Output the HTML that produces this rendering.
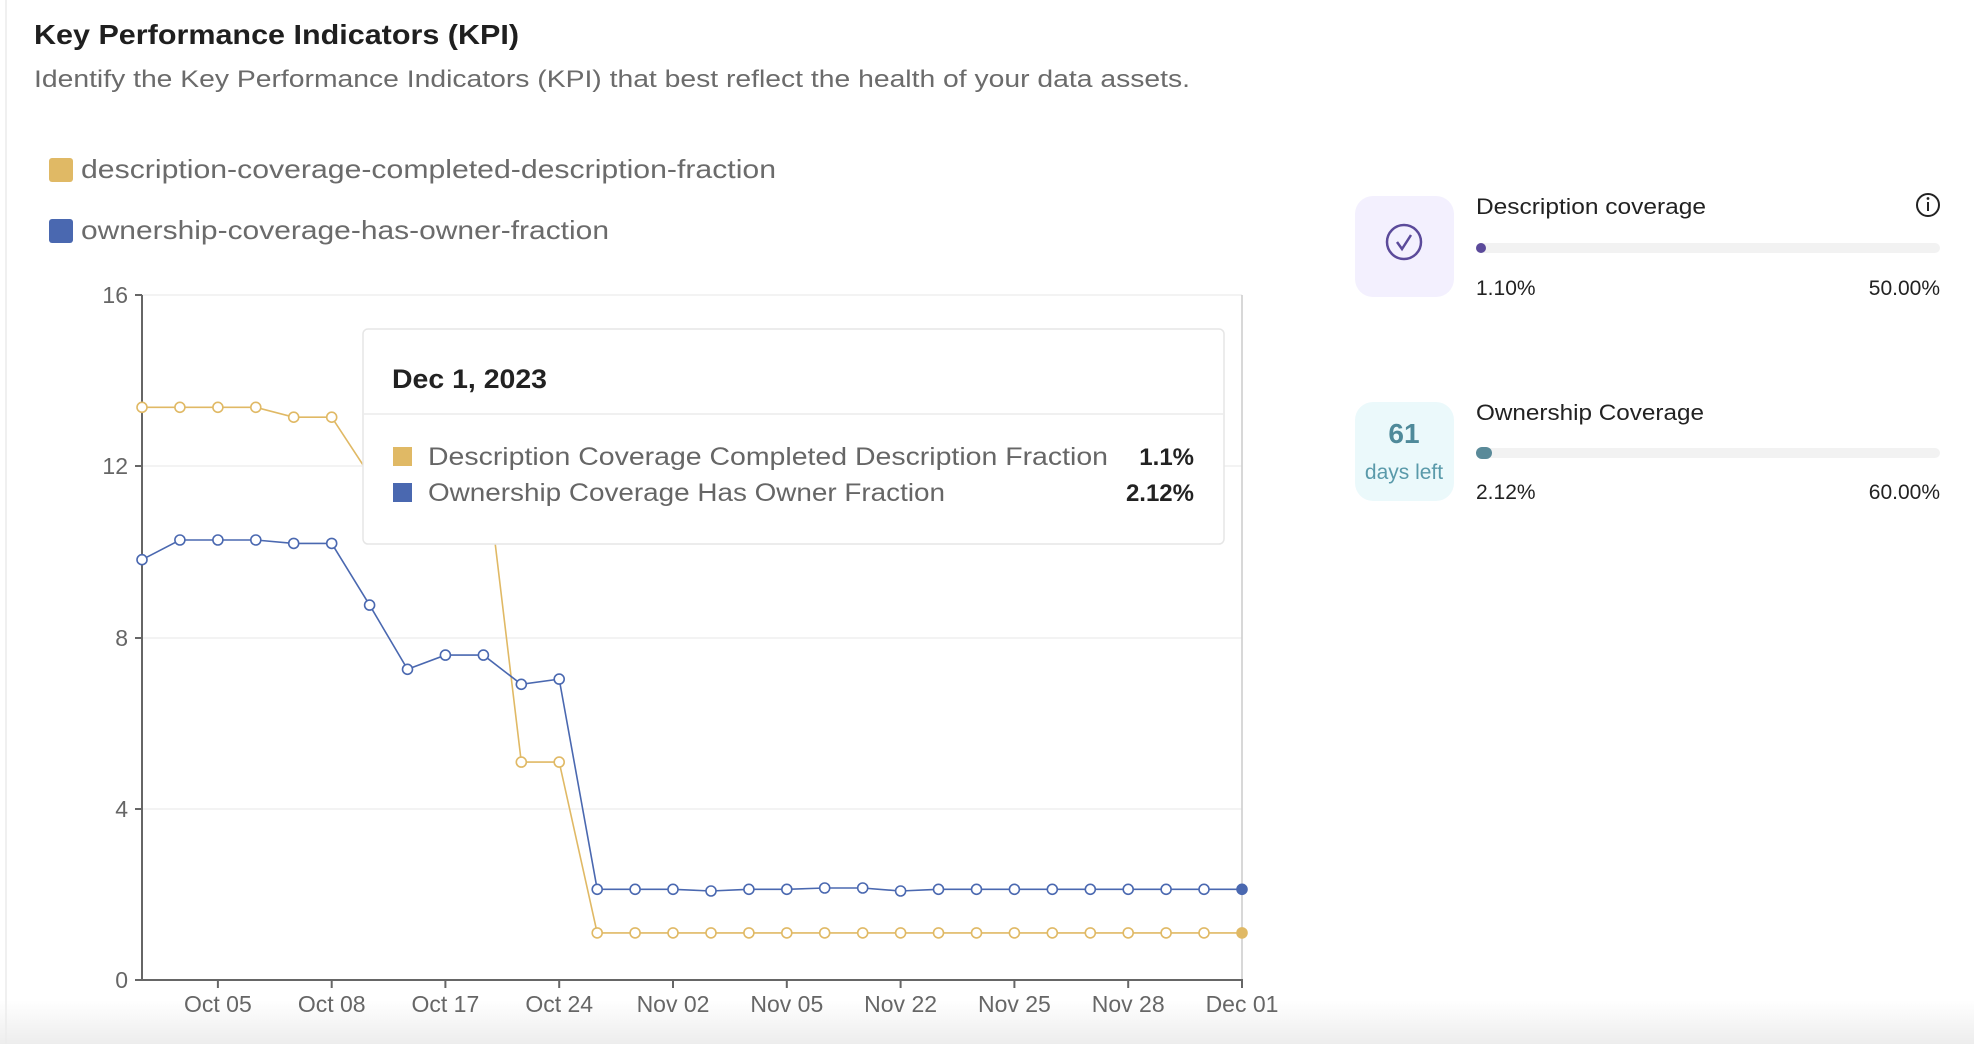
<!DOCTYPE html>
<html><head><meta charset="utf-8"><style>
html,body{margin:0;padding:0;background:#fff;width:1974px;height:1044px;overflow:hidden}
</style></head><body>
<svg width="1974" height="1044" viewBox="0 0 1974 1044" xmlns="http://www.w3.org/2000/svg" font-family="Liberation Sans, sans-serif">
<defs><linearGradient id="bg" x1="0" y1="0" x2="0" y2="1"><stop offset="0" stop-color="#fff"/><stop offset="1" stop-color="#ededed"/></linearGradient></defs>
<rect width="1974" height="1044" fill="#fff"/>
<rect x="0" y="1000" width="1974" height="44" fill="url(#bg)"/>
<line x1="6" y1="0" x2="6" y2="1044" stroke="#ececec" stroke-width="1.5"/>
<text x="34" y="44" font-size="28" font-weight="bold" fill="#1f1f1f" textLength="485" lengthAdjust="spacingAndGlyphs">Key Performance Indicators (KPI)</text>
<text x="34" y="87" font-size="24" fill="#6b6b6b" textLength="1156" lengthAdjust="spacingAndGlyphs">Identify the Key Performance Indicators (KPI) that best reflect the health of your data assets.</text>
<rect x="49" y="158" width="24" height="24" rx="3" fill="#e0b965"/>
<text x="81" y="178" font-size="26" fill="#6b6b6b" textLength="695" lengthAdjust="spacingAndGlyphs">description-coverage-completed-description-fraction</text>
<rect x="49" y="219" width="24" height="24" rx="3" fill="#4a68b0"/>
<text x="81" y="239" font-size="26" fill="#6b6b6b" textLength="528" lengthAdjust="spacingAndGlyphs">ownership-coverage-has-owner-fraction</text>
<g stroke="#efefef" stroke-width="1.5">
<line x1="142" y1="295" x2="1242" y2="295"/><line x1="142" y1="466" x2="1242" y2="466"/><line x1="142" y1="638" x2="1242" y2="638"/><line x1="142" y1="809" x2="1242" y2="809"/></g>
<line x1="1242" y1="295" x2="1242" y2="980" stroke="#ccc" stroke-width="1.5"/>
<g stroke="#666" stroke-width="2"><line x1="142" y1="295" x2="142" y2="981"/><line x1="141" y1="980" x2="1243" y2="980"/>
<line x1="135" y1="295" x2="142" y2="295"/><line x1="135" y1="466" x2="142" y2="466"/><line x1="135" y1="638" x2="142" y2="638"/><line x1="135" y1="809" x2="142" y2="809"/><line x1="135" y1="980" x2="142" y2="980"/>
<line x1="217.9" y1="980" x2="217.9" y2="988"/><line x1="331.7" y1="980" x2="331.7" y2="988"/><line x1="445.4" y1="980" x2="445.4" y2="988"/><line x1="559.2" y1="980" x2="559.2" y2="988"/><line x1="673" y1="980" x2="673" y2="988"/><line x1="786.8" y1="980" x2="786.8" y2="988"/><line x1="900.6" y1="980" x2="900.6" y2="988"/><line x1="1014.4" y1="980" x2="1014.4" y2="988"/><line x1="1128.2" y1="980" x2="1128.2" y2="988"/><line x1="1242" y1="980" x2="1242" y2="988"/></g>
<g font-size="23" fill="#666" text-anchor="end"><text x="128" y="303">16</text><text x="128" y="474">12</text><text x="128" y="646">8</text><text x="128" y="817">4</text><text x="128" y="988">0</text></g>
<g font-size="23" fill="#666" text-anchor="middle"><text x="217.9" y="1012">Oct 05</text><text x="331.7" y="1012">Oct 08</text><text x="445.4" y="1012">Oct 17</text><text x="559.2" y="1012">Oct 24</text><text x="673" y="1012">Nov 02</text><text x="786.8" y="1012">Nov 05</text><text x="900.6" y="1012">Nov 22</text><text x="1014.4" y="1012">Nov 25</text><text x="1128.2" y="1012">Nov 28</text><text x="1242" y="1012">Dec 01</text></g>
<polyline fill="none" stroke="#e0b965" stroke-width="1.6" points="142,407.3 179.9,407.3 217.9,407.3 255.8,407.3 293.7,417.2 331.7,417.2 369.6,475 407.5,457.8 445.4,457.8 483.4,445 521.3,762.1 559.2,762.1 597.2,932.9 635.1,932.9 673,932.9 711,932.9 748.9,932.9 786.8,932.9 824.7,932.9 862.7,932.9 900.6,932.9 938.5,932.9 976.5,932.9 1014.4,932.9 1052.3,932.9 1090.3,932.9 1128.2,932.9 1166.1,932.9 1204,932.9 1242,932.9"/>
<g fill="#fff" stroke="#e0b965" stroke-width="1.6"><circle cx="142" cy="407.3" r="5"/><circle cx="179.9" cy="407.3" r="5"/><circle cx="217.9" cy="407.3" r="5"/><circle cx="255.8" cy="407.3" r="5"/><circle cx="293.7" cy="417.2" r="5"/><circle cx="331.7" cy="417.2" r="5"/><circle cx="521.3" cy="762.1" r="5"/><circle cx="559.2" cy="762.1" r="5"/><circle cx="597.2" cy="932.9" r="5"/><circle cx="635.1" cy="932.9" r="5"/><circle cx="673" cy="932.9" r="5"/><circle cx="711" cy="932.9" r="5"/><circle cx="748.9" cy="932.9" r="5"/><circle cx="786.8" cy="932.9" r="5"/><circle cx="824.7" cy="932.9" r="5"/><circle cx="862.7" cy="932.9" r="5"/><circle cx="900.6" cy="932.9" r="5"/><circle cx="938.5" cy="932.9" r="5"/><circle cx="976.5" cy="932.9" r="5"/><circle cx="1014.4" cy="932.9" r="5"/><circle cx="1052.3" cy="932.9" r="5"/><circle cx="1090.3" cy="932.9" r="5"/><circle cx="1128.2" cy="932.9" r="5"/><circle cx="1166.1" cy="932.9" r="5"/><circle cx="1204" cy="932.9" r="5"/><circle cx="1242" cy="932.9" r="5" fill="#e0b965"/></g>
<polyline fill="none" stroke="#4a68b0" stroke-width="1.6" points="142,559.7 179.9,540 217.9,540 255.8,540 293.7,543.4 331.7,543.4 369.6,605.1 407.5,669.3 445.4,655.1 483.4,655.1 521.3,684.3 559.2,679.1 597.2,889.3 635.1,889.3 673,889.3 711,891 748.9,889.3 786.8,889.3 824.7,888 862.7,888 900.6,891 938.5,889.3 976.5,889.3 1014.4,889.3 1052.3,889.3 1090.3,889.3 1128.2,889.3 1166.1,889.3 1204,889.3 1242,889.3"/>
<g fill="#fff" stroke="#4a68b0" stroke-width="1.6"><circle cx="142" cy="559.7" r="5"/><circle cx="179.9" cy="540" r="5"/><circle cx="217.9" cy="540" r="5"/><circle cx="255.8" cy="540" r="5"/><circle cx="293.7" cy="543.4" r="5"/><circle cx="331.7" cy="543.4" r="5"/><circle cx="369.6" cy="605.1" r="5"/><circle cx="407.5" cy="669.3" r="5"/><circle cx="445.4" cy="655.1" r="5"/><circle cx="483.4" cy="655.1" r="5"/><circle cx="521.3" cy="684.3" r="5"/><circle cx="559.2" cy="679.1" r="5"/><circle cx="597.2" cy="889.3" r="5"/><circle cx="635.1" cy="889.3" r="5"/><circle cx="673" cy="889.3" r="5"/><circle cx="711" cy="891" r="5"/><circle cx="748.9" cy="889.3" r="5"/><circle cx="786.8" cy="889.3" r="5"/><circle cx="824.7" cy="888" r="5"/><circle cx="862.7" cy="888" r="5"/><circle cx="900.6" cy="891" r="5"/><circle cx="938.5" cy="889.3" r="5"/><circle cx="976.5" cy="889.3" r="5"/><circle cx="1014.4" cy="889.3" r="5"/><circle cx="1052.3" cy="889.3" r="5"/><circle cx="1090.3" cy="889.3" r="5"/><circle cx="1128.2" cy="889.3" r="5"/><circle cx="1166.1" cy="889.3" r="5"/><circle cx="1204" cy="889.3" r="5"/><circle cx="1242" cy="889.3" r="5" fill="#4a68b0"/></g>
<rect x="363" y="329" width="861" height="215" rx="5" fill="#fff" stroke="#e6e6e6" stroke-width="1.5"/>
<text x="392" y="388" font-size="27" font-weight="bold" fill="#222" textLength="155" lengthAdjust="spacingAndGlyphs">Dec 1, 2023</text>
<line x1="363" y1="414" x2="1224" y2="414" stroke="#ececec" stroke-width="1.5"/>
<rect x="393" y="447" width="19" height="19" fill="#e0b965"/>
<text x="428" y="465" font-size="25" fill="#666" textLength="680" lengthAdjust="spacingAndGlyphs">Description Coverage Completed Description Fraction</text>
<text x="1194" y="465" font-size="24" font-weight="bold" fill="#222" text-anchor="end">1.1%</text>
<rect x="393" y="483" width="19" height="19" fill="#4a68b0"/>
<text x="428" y="501" font-size="25" fill="#666" textLength="517" lengthAdjust="spacingAndGlyphs">Ownership Coverage Has Owner Fraction</text>
<text x="1194" y="501" font-size="24" font-weight="bold" fill="#222" text-anchor="end">2.12%</text>
<rect x="1355" y="196" width="99" height="101" rx="18" fill="#f3f0fe"/>
<circle cx="1404" cy="242" r="17" fill="none" stroke="#5b4a9a" stroke-width="2.5"/>
<polyline points="1397,242 1402,249 1411,235" fill="none" stroke="#5b4a9a" stroke-width="2.5"/>
<text x="1476" y="214" font-size="22" fill="#222" textLength="230" lengthAdjust="spacingAndGlyphs">Description coverage</text>
<circle cx="1928" cy="205" r="11" fill="none" stroke="#222" stroke-width="2"/>
<line x1="1928" y1="202" x2="1928" y2="211" stroke="#222" stroke-width="2"/><circle cx="1928" cy="198.5" r="1.4" fill="#222"/>
<rect x="1476" y="243" width="464" height="10" rx="5" fill="#f2f2f2"/>
<circle cx="1481" cy="248" r="5" fill="#5b4a9a"/>
<text x="1476" y="295" font-size="21" fill="#222">1.10%</text>
<text x="1940" y="295" font-size="21" fill="#222" text-anchor="end">50.00%</text>
<rect x="1355" y="402" width="99" height="99" rx="18" fill="#ebf9fb"/>
<text x="1404" y="443" font-size="28" font-weight="bold" fill="#4f8a9a" text-anchor="middle">61</text>
<text x="1404" y="479" font-size="21" fill="#5a9aaa" text-anchor="middle">days left</text>
<text x="1476" y="420" font-size="22" fill="#222" textLength="228" lengthAdjust="spacingAndGlyphs">Ownership Coverage</text>
<rect x="1476" y="448" width="464" height="10" rx="5" fill="#f2f2f2"/>
<rect x="1476" y="447" width="16" height="12" rx="6" fill="#5a8a99"/>
<text x="1476" y="499" font-size="21" fill="#222">2.12%</text>
<text x="1940" y="499" font-size="21" fill="#222" text-anchor="end">60.00%</text>
</svg>
</body></html>
